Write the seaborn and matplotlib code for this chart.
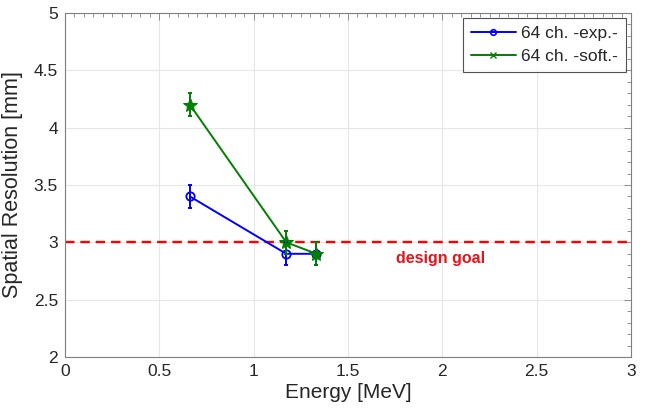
import matplotlib
matplotlib.use("Agg")
import matplotlib.pyplot as plt
import seaborn as sns
import pandas as pd
from matplotlib.lines import Line2D
from matplotlib.ticker import MultipleLocator, FuncFormatter

energy = [0.662, 1.173, 1.333]
res_exp = [3.4, 2.9, 2.9]
err_exp = [0.1, 0.1, 0.1]
res_soft = [4.2, 3.0, 2.9]
err_soft = [0.1, 0.1, 0.1]
labels = ["64 ch. -exp.-", "64 ch. -soft.-"]
design_goal = 3.0

sns.set_theme(style="whitegrid")
plt.rcParams['font.family'] = ['Liberation Sans', 'DejaVu Sans']

df = pd.DataFrame({
    "energy": energy * 2,
    "res": res_exp + res_soft,
    "series": [labels[0]] * 3 + [labels[1]] * 3,
})

fig = plt.figure(figsize=(6.52, 4.16), dpi=100)
ax = fig.add_axes([65 / 652, 59 / 416, 566 / 652, 344 / 416])
ax.set_facecolor("white")

blue, green = "#0000ff", "#008000"
palette = {labels[0]: blue, labels[1]: green}
sns.lineplot(data=df, x="energy", y="res", hue="series", palette=palette,
             style="series", markers={labels[0]: "o", labels[1]: "*"},
             dashes=False, ax=ax, legend=False, linewidth=1.4,
             markersize=6)
ax.lines[0].set_markerfacecolor("none")
ax.lines[0].set_markeredgecolor(blue)
ax.lines[0].set_markeredgewidth(1.3)
ax.lines[1].set_markerfacecolor(green)
ax.lines[1].set_markeredgecolor(green)
ax.lines[1].set_markersize(10)

ax.errorbar(energy, res_exp, yerr=err_exp, fmt="none", ecolor=blue,
            elinewidth=1.4, capsize=1.5, capthick=1.4)
ax.errorbar(energy, res_soft, yerr=err_soft, fmt="none", ecolor=green,
            elinewidth=1.4, capsize=1.5, capthick=1.4)

ax.axhline(design_goal, color="#ff0000", linestyle=(0, (4, 2.5)),
           linewidth=1.7, zorder=1.5)
ax.text(1.99, 2.855, "design goal", color="#e8141c", fontsize=11.5,
        fontweight="bold", ha="center", va="center")

ax.set_xlim(0, 3)
ax.set_ylim(2, 5)
ax.xaxis.set_major_locator(MultipleLocator(0.5))
ax.yaxis.set_major_locator(MultipleLocator(0.5))
ax.xaxis.set_minor_locator(MultipleLocator(0.05))
ax.yaxis.set_minor_locator(MultipleLocator(0.1))
ax.xaxis.set_major_formatter(FuncFormatter(lambda v, p: f"{v:g}"))
ax.yaxis.set_major_formatter(FuncFormatter(lambda v, p: f"{v:g}"))

ax.grid(True, which="major", color="#e6e6e6", linewidth=0.8)
ax.grid(False, which="minor")
for s in ax.spines.values():
    s.set_visible(True)
    s.set_color("#7f7f7f")
    s.set_linewidth(0.8)
ax.tick_params(which="both", direction="in", top=True, right=True,
               colors="#7f7f7f", labelcolor="#262626", labelsize=12.5)
ax.tick_params(which="major", length=5, width=0.6, pad=5)
ax.tick_params(which="minor", length=3, width=0.6)

ax.set_xlabel("Energy [MeV]", fontsize=15, color="#262626", labelpad=3)
ax.set_ylabel("Spatial Resolution [mm]", fontsize=15.5, color="#262626", labelpad=8)

handles = [
    Line2D([], [], color=blue, marker="o", markerfacecolor="none",
           markersize=4, markeredgewidth=1.2, linewidth=1.4),
    Line2D([], [], color=green, marker="x", markersize=5, linewidth=1.4),
]
leg = ax.legend(handles, labels, loc="upper right", fontsize=12.5,
                frameon=True, fancybox=False, edgecolor="#262626",
                handlelength=2.6, handletextpad=0.3, borderaxespad=0.3,
                labelspacing=0.45, borderpad=0.45)
leg.get_frame().set_linewidth(0.8)

fig.savefig("out.png", dpi=100, facecolor="white")
